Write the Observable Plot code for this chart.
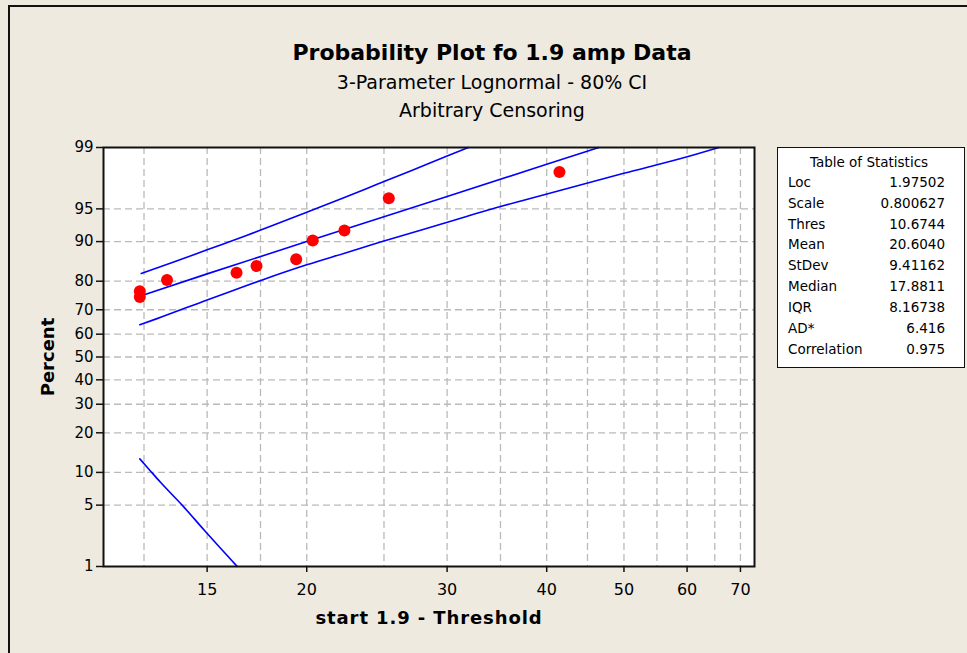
<!DOCTYPE html>
<html>
<head>
<meta charset="utf-8">
<script src="https://cdn.jsdelivr.net/npm/d3@7"></script>
<script src="https://cdn.jsdelivr.net/npm/@observablehq/plot@0.6"></script>
<style>
  html, body { margin: 0; padding: 0; background: #EEEAE0; }
  #wrap { position: relative; width: 967px; height: 653px; overflow: hidden; background: #EEEAE0; font-family: "DejaVu Sans", sans-serif; }
  #border { position: absolute; left: 8px; top: 5px; right: -5px; bottom: -5px; border-left: 2px solid #111; border-top: 2px solid #111; }
  .t { position: absolute; white-space: nowrap; transform: translate(-50%, -50%); color: #000; }
  #title { left: 492px; top: 52px; font-size: 22px; font-weight: bold; }
  #sub1 { left: 492px; top: 82px; font-size: 19px; }
  #sub2 { left: 492px; top: 110px; font-size: 19px; }
  #chart { position: absolute; left: 0; top: 130px; }
  #stats { position: absolute; left: 777px; top: 147px; width: 188px; height: 221px; border: 1.5px solid #111; background: #fff; box-sizing: border-box; font-size: 13.5px; color: #000; }
  #stats .hd { position: absolute; left: 0; right: 4px; text-align: center; height: 20px; line-height: 20px; }
  #stats .row { position: absolute; left: 10px; right: 19px; display: flex; justify-content: space-between; height: 20px; line-height: 20px; }
</style>
</head>
<body>
<div id="wrap">
  <div id="border"></div>
  <div class="t" id="title">Probability Plot fo 1.9 amp Data</div>
  <div class="t" id="sub1">3-Parameter Lognormal - 80% CI</div>
  <div class="t" id="sub2">Arbitrary Censoring</div>
  <div id="chart"></div>
  <div id="stats"></div>
</div>
<script>
// ---- data ----
const pointT   = [12.35, 12.35, 13.36, 16.33, 17.3, 19.4, 20.35, 22.3, 25.35, 41.5];
const pointPct = [76.7, 74.7, 80.4, 82.5, 84.4, 86.1, 90.2, 92.0, 96.1, 98.0];

const fitT   = [12.4, 15, 20, 30, 40, 46.5];
const fitPct = [75.2, 82.2, 90.0, 96.26, 98.38, 99.0];

const upperT   = [12.4, 13.62, 15, 16.84, 20, 22.26, 24.51, 26.99, 30, 31.9];
const upperPct = [82.3, 85.4, 88.3, 91.2, 94.6, 96.15, 97.24, 98.06, 98.72, 99.0];

const lowerT   = [12.35, 12.98, 15, 16.36, 17.59, 20, 22.26, 24.75, 29.44, 35.0, 37.44, 42.45, 49.98, 60.02, 65.77];
const lowerPct = [64.0, 66.5, 73.7, 77.5, 80.4, 84.7, 87.5, 89.9, 92.98, 95.26, 95.92, 96.94, 97.93, 98.69, 99.0];

const tailT   = [12.35, 12.67, 13.11, 14.02, 14.86, 16.36];
const tailPct = [12.9, 10.7, 8.2, 4.8, 2.75, 1.0];

const xTicks = [15, 20, 30, 40, 50, 60, 70];
const xGrid  = [12.5, 15, 17.5, 20, 25, 30, 35, 40, 45, 50, 55, 60, 65, 70];
const yTicks = [1, 5, 10, 20, 30, 40, 50, 60, 70, 80, 90, 95, 99];
const yGrid  = [5, 10, 20, 30, 40, 50, 60, 70, 80, 90, 95];
const xDomain = [11.12, 72.9];
const yDomainPct = [1, 99];

const xTitle = "start 1.9 - Threshold";
const yTitle = "Percent";

const statLabels = ["Loc", "Scale", "Thres", "Mean", "StDev", "Median", "IQR", "AD*", "Correlation"];
const statValues = ["1.97502", "0.800627", "10.6744", "20.6040", "9.41162", "17.8811", "8.16738", "6.416", "0.975"];

// ---- normal quantile (probability-paper transform) ----
function probit(p) {
  const a=[-3.969683028665376e+01,2.209460984245205e+02,-2.759285104469687e+02,1.383577518672690e+02,-3.066479806614716e+01,2.506628277459239e+00];
  const b=[-5.447609879822406e+01,1.615858368580409e+02,-1.556989798598866e+02,6.680131188771972e+01,-1.328068155288572e+01];
  const c=[-7.784894002430293e-03,-3.223964580411365e-01,-2.400758277161838e+00,-2.549732539343734e+00,4.374664141464968e+00,2.938163982698783e+00];
  const d=[7.784695709041462e-03,3.224671290700398e-01,2.445134137142996e+00,3.754408661907416e+00];
  const pl = 0.02425, ph = 1 - pl;
  let q, r;
  if (p < pl) { q = Math.sqrt(-2*Math.log(p)); return (((((c[0]*q+c[1])*q+c[2])*q+c[3])*q+c[4])*q+c[5])/((((d[0]*q+d[1])*q+d[2])*q+d[3])*q+1); }
  if (p <= ph) { q = p - 0.5; r = q*q; return (((((a[0]*r+a[1])*r+a[2])*r+a[3])*r+a[4])*r+a[5])*q/(((((b[0]*r+b[1])*r+b[2])*r+b[3])*r+b[4])*r+1); }
  q = Math.sqrt(-2*Math.log(1-p)); return -(((((c[0]*q+c[1])*q+c[2])*q+c[3])*q+c[4])*q+c[5])/((((d[0]*q+d[1])*q+d[2])*q+d[3])*q+1);
}
const Z = pct => probit(pct / 100);

const zip = (ts, ps) => ts.map((t, i) => ({t, p: ps[i]}));
const points = zip(pointT, pointPct);
const fit = zip(fitT, fitPct);
const upper = zip(upperT, upperPct);
const lower = zip(lowerT, lowerPct);
const tail = zip(tailT, tailPct);

const yLabelMap = new Map(yTicks.map(p => [Z(p).toFixed(6), String(p)]));

const lineOpts = {x: "t", y: d => Z(d.p), stroke: "#0000FF", strokeWidth: 1.6, curve: "monotone-x"};
const gridOpts = {stroke: "#bababa", strokeWidth: 1.3, strokeDasharray: "7,4"};

const chart = Plot.plot({
  width: 967,
  height: 523,
  marginTop: 17,
  marginBottom: 87,
  marginLeft: 103,
  marginRight: 213,
  style: {background: "transparent", fontFamily: "DejaVu Sans", fontSize: "15px", color: "#000", overflow: "visible"},
  x: {type: "log", domain: xDomain},
  y: {type: "linear", domain: yDomainPct.map(Z)},
  marks: [
    Plot.frame({fill: "white", stroke: null}),
    Plot.ruleX(xGrid, gridOpts),
    Plot.ruleY(yGrid, {...gridOpts, y: d => Z(d)}),
    Plot.line(upper, lineOpts),
    Plot.line(fit, {...lineOpts, curve: "linear"}),
    Plot.line(lower, lineOpts),
    Plot.line(tail, lineOpts),
    Plot.dot(points, {x: "t", y: d => Z(d.p), r: 6, fill: "#FF0000", stroke: null}),
    Plot.frame({stroke: "#111", strokeWidth: 2}),
    Plot.axisX(xTicks, {tickSize: 6, tickPadding: 11, fontSize: 16, tickFormat: d => String(d), label: null, stroke: "#111", strokeWidth: 1.5}),
    Plot.axisY(yTicks.map(Z), {tickSize: 7, tickPadding: 3, fontSize: 15, tickFormat: z => yLabelMap.get(z.toFixed(6)), label: null, stroke: "#111", strokeWidth: 1.5}),
    Plot.text([yTitle], {frameAnchor: "left", dx: -55, rotate: -90, textAnchor: "middle", lineAnchor: "middle", fontSize: 18, fontWeight: "bold"}),
    Plot.text([xTitle], {frameAnchor: "bottom", dy: 52, textAnchor: "middle", lineAnchor: "middle", fontSize: 18, fontWeight: "bold"})
  ]
});
d3.select(chart).selectAll("text")
  .filter(function () { return this.textContent === xTitle; })
  .style("letter-spacing", "0.9px");
document.getElementById("chart").appendChild(chart);

// ---- statistics table ----
const stats = document.getElementById("stats");
const hd = document.createElement("div");
hd.className = "hd";
hd.style.top = (15.7 - 10 - 1.5) + "px";
hd.textContent = "Table of Statistics";
stats.appendChild(hd);
statLabels.forEach((lab, i) => {
  const row = document.createElement("div");
  row.className = "row";
  row.style.top = (35.3 + i * 20.87 - 10 - 1.5) + "px";
  const a = document.createElement("span"); a.textContent = lab;
  const b = document.createElement("span"); b.textContent = statValues[i];
  row.appendChild(a); row.appendChild(b);
  stats.appendChild(row);
});
</script>
</body>
</html>
